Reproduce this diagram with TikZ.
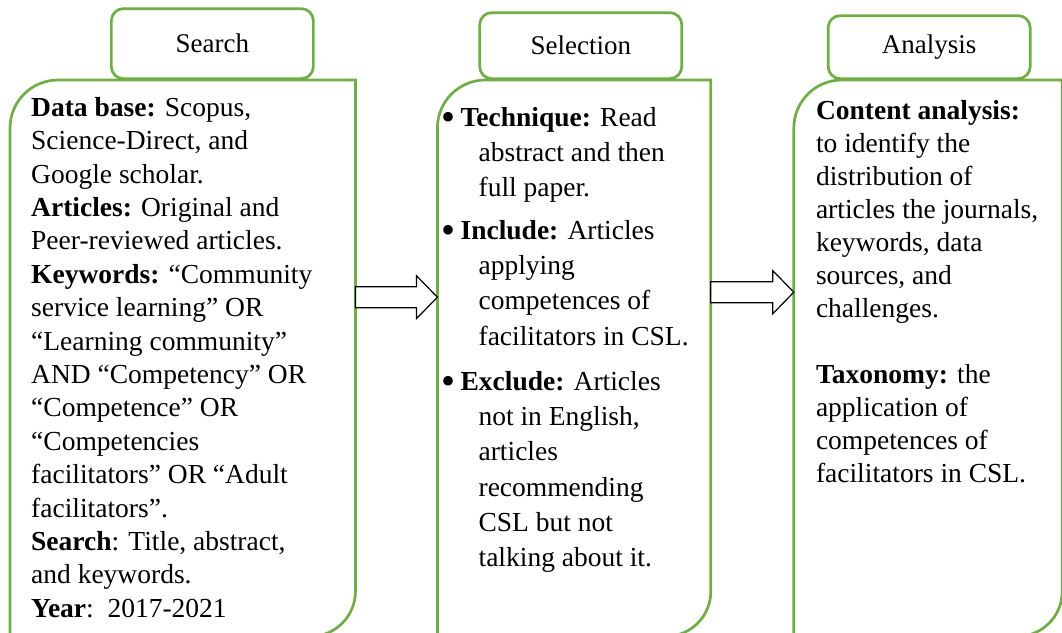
\documentclass[tikz,border=0pt]{standalone}
\usepackage{xcolor}
\usepackage{fontspec}
\setmainfont{Liberation Serif}
\usepackage{tikz}
\usetikzlibrary{positioning,calc}
\definecolor{leafgreen}{HTML}{70AD47}
\newcommand{\bigdot}{\makebox[19pt][l]{\raisebox{-4pt}{\fontsize{40}{40}\selectfont\textbullet}}}

\begin{document}
\begin{tikzpicture}[
				x=1pt, y=1pt,
				framenode/.style={rectangle, draw=none, inner sep=0pt, minimum height=556pt},
				tabnode/.style={rectangle, rounded corners=12pt, draw=leafgreen, fill=white, line width=2.7pt, minimum width=202pt, inner sep=0pt, font=\fontsize{27}{31}\selectfont},
				textnode/.style={align=left, inner sep=0pt},
				frameline/.style={draw=leafgreen, line width=2.7pt},
				blockarrow/.style={draw=black, line width=1.2pt, fill=white, to path={
						($(\tikztostart)+(0,10.5)$) -- ($(\tikztotarget)+(-21,10.5)$) -- ($(\tikztotarget)+(-21,21.5)$) -- (\tikztotarget)
						-- ($(\tikztotarget)+(-21,-21.5)$) -- ($(\tikztotarget)+(-21,-10.5)$) -- ($(\tikztostart)+(0,-10.5)$) -- cycle}},
				node distance = 82pt,
				]
				\useasboundingbox (0,0) rectangle (1062,-632);
				
				%Nodes
				\node[framenode, minimum width=345pt, anchor=north west](search) at (10,-80){};
				\node[framenode, minimum width=273pt](selection)[right=of search]{};
				\node[framenode, minimum width=268pt](analysis)[right=83pt of selection]{};
				
				\node[tabnode, minimum height=70pt](searchtab)[above right=0pt and 100pt of search.north west]{Search};
				\node[tabnode, minimum height=66pt](selectiontab)[above right=0pt and 41pt of selection.north west]{Selection};
				\node[tabnode, minimum height=63pt](analysistab)[above right=0pt and 33pt of analysis.north west]{Analysis};
				
				\node[textnode, font=\fontsize{27.5}{33.4}\selectfont](searchtext)[below right=17pt and 21pt of search.north west]{%
					\textbf{Data base:} Scopus,\\
					Science-Direct, and\\
					Google scholar.\\
					\textbf{Articles:} Original and\\
					Peer-reviewed articles.\\
					\textbf{Keywords:} “Community\\
					service learning” OR\\
					“Learning community”\\
					AND “Competency” OR\\
					“Competence” OR\\
					“Competencies\\
					facilitators” OR “Adult\\
					facilitators”.\\
					\textbf{Search}: Title, abstract,\\
					and keywords.\\
					\textbf{Year}:\ \ 2017-2021};
				\node[textnode, font=\fontsize{27.5}{35.3}\selectfont](selectiontext)[below right=27pt and 4pt of selection.north west]{%
					\bigdot\textbf{Technique:} Read\\
					\hspace*{37pt}abstract and then\\
					\hspace*{37pt}full paper.\\[7pt]
					\bigdot\textbf{Include:} Articles\\
					\hspace*{37pt}applying\\
					\hspace*{37pt}competences of\\
					\hspace*{37pt}facilitators in CSL.\\[10pt]
					\bigdot\textbf{Exclude:} Articles\\
					\hspace*{37pt}not in English,\\
					\hspace*{37pt}articles\\
					\hspace*{37pt}recommending\\
					\hspace*{37pt}CSL but not\\
					\hspace*{37pt}talking about it.};
				\node[textnode, font=\fontsize{27.5}{33}\selectfont](analysistext)[below right=20pt and 22pt of analysis.north west]{%
					\textbf{Content analysis:}\\
					to identify the\\
					distribution of\\
					articles the journals,\\
					keywords, data\\
					sources, and\\
					challenges.\\[33pt]
					\textbf{Taxonomy:} the\\
					application of\\
					competences of\\
					facilitators in CSL.};
				
				%Lines
				\foreach \frm in {search,selection,analysis}
				\draw[frameline] (\frm.south west) -- ([yshift=-48pt]\frm.north west) arc[start angle=180, end angle=90, radius=48pt]
				-- (\frm.north east) -- ([yshift=45pt]\frm.south east) arc[start angle=0, end angle=-90, radius=45pt] -- cycle;
				
				\draw[blockarrow] ([yshift=61pt]search.east) to ([yshift=61pt]selection.west);
				\draw[blockarrow] ([yshift=66pt]selection.east) to ([yshift=66pt]analysis.west);
				
\end{tikzpicture}
\end{document}
